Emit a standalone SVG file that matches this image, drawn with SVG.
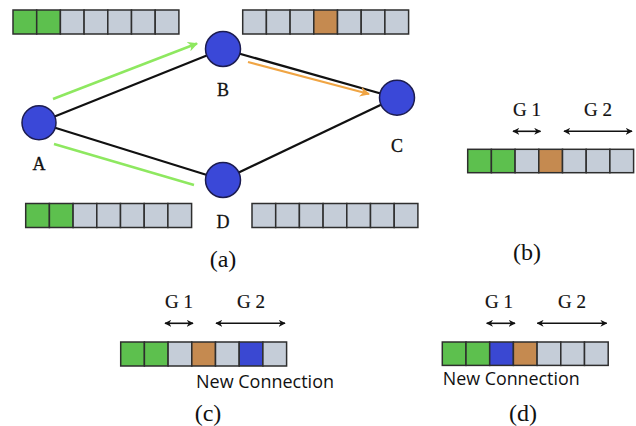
<svg xmlns="http://www.w3.org/2000/svg" width="636" height="426" viewBox="0 0 636 426">
<defs>
<style>
.cell{stroke:#2e2e2e;stroke-width:1.5}
.gr{fill:#5dc04e}.gy{fill:#c5cdd8}.or{fill:#c58a50}.bl{fill:#3a48d2}
.node{fill:#3a48d8;stroke:#1c1c50;stroke-width:1.5}
.edge{stroke:#111;stroke-width:2.2;fill:none}
.lbl{font-family:"Liberation Serif","Times New Roman",serif;font-size:18px;fill:#111;stroke:#111;stroke-width:0.3;text-anchor:middle}
.cap{font-family:"Liberation Serif","Times New Roman",serif;font-size:24px;fill:#111;text-anchor:middle}
.g{font-family:"Liberation Serif","Times New Roman",serif;font-size:19px;fill:#111;stroke:#111;stroke-width:0.2;text-anchor:middle}
.nc{font-family:"Open Sans","Noto Sans",sans-serif;font-size:18px;fill:#111}
.dbl{stroke:#111;stroke-width:1.6;marker-start:url(#ah);marker-end:url(#ah)}
</style>
<marker id="ah" viewBox="0 0 10 10" refX="9" refY="5" markerWidth="7" markerHeight="7" markerUnits="userSpaceOnUse" orient="auto-start-reverse"><path d="M0,0 L10,5 L0,10 L3,5 Z" fill="#111"/></marker>
<marker id="gah" viewBox="0 0 10 10" refX="9" refY="5" markerWidth="10" markerHeight="10" markerUnits="userSpaceOnUse" orient="auto"><path d="M0,0 L10,5 L0,10 L3,5 Z" fill="#8ee860"/></marker>
<marker id="oah" viewBox="0 0 10 10" refX="9" refY="5" markerWidth="10" markerHeight="10" markerUnits="userSpaceOnUse" orient="auto"><path d="M0,0 L10,5 L0,10 L3,5 Z" fill="#f0a544"/></marker>
</defs>
<rect width="636" height="426" fill="#fff"/>

<g id="connectors">
<line class="edge" x1="39" y1="122.7" x2="223" y2="49"/>
<line class="edge" x1="223" y1="49" x2="395.7" y2="97.7"/>
<line class="edge" x1="39" y1="122.7" x2="223" y2="180"/>
<line class="edge" x1="223" y1="180" x2="395.7" y2="97.7"/>
<line x1="53" y1="99" x2="197" y2="43.5" stroke="#8ee860" stroke-width="2.5" marker-end="url(#gah)"/>
<line x1="54" y1="144" x2="194" y2="185" stroke="#8ee860" stroke-width="2.5"/>
<line x1="248" y1="62" x2="369" y2="94" stroke="#f0a544" stroke-width="2.2" marker-end="url(#oah)"/>
</g>

<g id="node-A"><circle class="node" cx="39" cy="122.7" r="17"/><text class="lbl" x="39" y="170">A</text></g>
<g id="node-B"><circle class="node" cx="223" cy="49" r="17.5"/><text class="lbl" x="223" y="96">B</text></g>
<g id="node-C"><circle class="node" cx="397" cy="97.7" r="17.5"/><text class="lbl" x="397" y="152">C</text></g>
<g id="node-D"><circle class="node" cx="223" cy="180" r="17.5"/><text class="lbl" x="223" y="228">D</text></g>

<g id="bar-A-top" transform="translate(13,10)">
<rect class="cell gr" x="0" y="0" width="23.7" height="24"/><rect class="cell gr" x="23.7" y="0" width="23.7" height="24"/><rect class="cell gy" x="47.4" y="0" width="23.7" height="24"/><rect class="cell gy" x="71.1" y="0" width="23.7" height="24"/><rect class="cell gy" x="94.8" y="0" width="23.7" height="24"/><rect class="cell gy" x="118.5" y="0" width="23.7" height="24"/><rect class="cell gy" x="142.2" y="0" width="23.7" height="24"/>
</g>
<g id="bar-B" transform="translate(242.7,10)">
<rect class="cell gy" x="0" y="0" width="23.7" height="24"/><rect class="cell gy" x="23.7" y="0" width="23.7" height="24"/><rect class="cell gy" x="47.4" y="0" width="23.7" height="24"/><rect class="cell or" x="71.1" y="0" width="23.7" height="24"/><rect class="cell gy" x="94.8" y="0" width="23.7" height="24"/><rect class="cell gy" x="118.5" y="0" width="23.7" height="24"/><rect class="cell gy" x="142.2" y="0" width="23.7" height="24"/>
</g>
<g id="bar-A-bottom" transform="translate(25.7,203.5)">
<rect class="cell gr" x="0" y="0" width="23.7" height="24"/><rect class="cell gr" x="23.7" y="0" width="23.7" height="24"/><rect class="cell gy" x="47.4" y="0" width="23.7" height="24"/><rect class="cell gy" x="71.1" y="0" width="23.7" height="24"/><rect class="cell gy" x="94.8" y="0" width="23.7" height="24"/><rect class="cell gy" x="118.5" y="0" width="23.7" height="24"/><rect class="cell gy" x="142.2" y="0" width="23.7" height="24"/>
</g>
<g id="bar-D" transform="translate(252,203.5)">
<rect class="cell gy" x="0" y="0" width="23.7" height="24"/><rect class="cell gy" x="23.7" y="0" width="23.7" height="24"/><rect class="cell gy" x="47.4" y="0" width="23.7" height="24"/><rect class="cell gy" x="71.1" y="0" width="23.7" height="24"/><rect class="cell gy" x="94.8" y="0" width="23.7" height="24"/><rect class="cell gy" x="118.5" y="0" width="23.7" height="24"/><rect class="cell gy" x="142.2" y="0" width="23.7" height="24"/>
</g>
<text class="cap" x="223" y="267">(a)</text>

<g id="panel-b">
<text class="g" x="527" y="116">G 1</text><text class="g" x="598" y="116">G 2</text>
<line class="dbl" x1="513" y1="131.3" x2="540.5" y2="131.3"/>
<line class="dbl" x1="564" y1="131.3" x2="632" y2="131.3"/>
<g transform="translate(467.7,149.3)">
<rect class="cell gr" x="0" y="0" width="23.7" height="23.4"/><rect class="cell gr" x="23.7" y="0" width="23.7" height="23.4"/><rect class="cell gy" x="47.4" y="0" width="23.7" height="23.4"/><rect class="cell or" x="71.1" y="0" width="23.7" height="23.4"/><rect class="cell gy" x="94.8" y="0" width="23.7" height="23.4"/><rect class="cell gy" x="118.5" y="0" width="23.7" height="23.4"/><rect class="cell gy" x="142.2" y="0" width="23.7" height="23.4"/>
</g>
<text class="cap" x="527" y="260">(b)</text>
</g>

<g id="panel-c">
<text class="g" x="179" y="308">G 1</text><text class="g" x="251" y="308">G 2</text>
<line class="dbl" x1="165" y1="323.3" x2="193" y2="323.3"/>
<line class="dbl" x1="216" y1="323.3" x2="285" y2="323.3"/>
<g transform="translate(120.7,342)">
<rect class="cell gr" x="0" y="0" width="23.7" height="24"/><rect class="cell gr" x="23.7" y="0" width="23.7" height="24"/><rect class="cell gy" x="47.4" y="0" width="23.7" height="24"/><rect class="cell or" x="71.1" y="0" width="23.7" height="24"/><rect class="cell gy" x="94.8" y="0" width="23.7" height="24"/><rect class="cell bl" x="118.5" y="0" width="23.7" height="24"/><rect class="cell gy" x="142.2" y="0" width="23.7" height="24"/>
</g>
<text class="nc" x="196" y="388" textLength="138" lengthAdjust="spacingAndGlyphs">New Connection</text>
<text class="cap" x="208" y="421">(c)</text>
</g>

<g id="panel-d">
<text class="g" x="499" y="308">G 1</text><text class="g" x="572" y="308">G 2</text>
<line class="dbl" x1="486.7" y1="323.3" x2="515" y2="323.3"/>
<line class="dbl" x1="537.3" y1="323.3" x2="606.7" y2="323.3"/>
<g transform="translate(442.3,342)">
<rect class="cell gr" x="0" y="0" width="23.7" height="23.4"/><rect class="cell gr" x="23.7" y="0" width="23.7" height="23.4"/><rect class="cell bl" x="47.4" y="0" width="23.7" height="23.4"/><rect class="cell or" x="71.1" y="0" width="23.7" height="23.4"/><rect class="cell gy" x="94.8" y="0" width="23.7" height="23.4"/><rect class="cell gy" x="118.5" y="0" width="23.7" height="23.4"/><rect class="cell gy" x="142.2" y="0" width="23.7" height="23.4"/>
</g>
<text class="nc" x="442.7" y="385" textLength="137" lengthAdjust="spacingAndGlyphs">New Connection</text>
<text class="cap" x="523" y="421">(d)</text>
</g>
</svg>
